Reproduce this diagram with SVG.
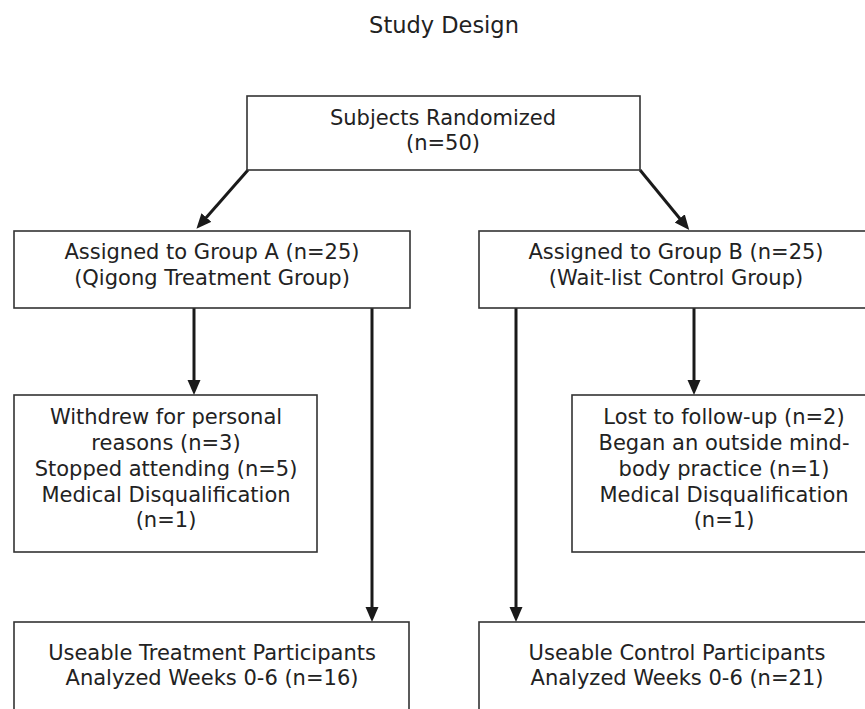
<svg xmlns="http://www.w3.org/2000/svg" width="865" height="709" viewBox="0 0 865 709">
<style>
.box{fill:#fff;stroke:#333;stroke-width:1.6}
.t{font-family:"DejaVu Sans",Verdana,sans-serif;font-size:21px;fill:#222;text-anchor:middle}
.c{stroke:#1a1a1a;stroke-width:3;fill:none;marker-end:url(#ah)}
</style>
<defs>
<marker id="ah" markerUnits="userSpaceOnUse" markerWidth="16" markerHeight="14" refX="2" refY="6.5" orient="auto">
<path d="M0,0 L15,6.5 L0,13 Z" fill="#1a1a1a"/>
</marker>
</defs>
<rect width="865" height="709" fill="#fff"/>
<text class="t" x="444" y="33" style="font-size:22.5px">Study Design</text>
<g id="connectors">
<line class="c" x1="248" y1="170" x2="205" y2="219"/>
<line class="c" x1="640" y1="170" x2="681" y2="220"/>
<line class="c" x1="194" y1="308" x2="194" y2="382"/>
<line class="c" x1="372" y1="308" x2="372" y2="609"/>
<line class="c" x1="516" y1="308" x2="516" y2="609"/>
<line class="c" x1="694" y1="308" x2="694" y2="382"/>
</g>
<g id="randomized">
<rect class="box" x="247" y="96" width="393" height="74"/>
<text class="t" x="443" y="125">Subjects Randomized</text>
<text class="t" x="443" y="150">(n=50)</text>
</g>
<g id="groupA">
<rect class="box" x="14" y="231" width="396" height="77"/>
<text class="t" x="212" y="259">Assigned to Group A (n=25)</text>
<text class="t" x="212" y="285">(Qigong Treatment Group)</text>
</g>
<g id="groupB">
<rect class="box" x="479" y="231" width="396" height="77"/>
<text class="t" x="676" y="259">Assigned to Group B (n=25)</text>
<text class="t" x="676" y="285">(Wait-list Control Group)</text>
</g>
<g id="dropoutA">
<rect class="box" x="14" y="395" width="303" height="157"/>
<text class="t" x="166" y="424">Withdrew for personal</text>
<text class="t" x="166" y="450">reasons (n=3)</text>
<text class="t" x="166" y="476">Stopped attending (n=5)</text>
<text class="t" x="166" y="502">Medical Disqualification</text>
<text class="t" x="166" y="527">(n=1)</text>
</g>
<g id="dropoutB">
<rect class="box" x="572" y="395" width="303" height="157"/>
<text class="t" x="724" y="424">Lost to follow-up (n=2)</text>
<text class="t" x="724" y="450">Began an outside mind-</text>
<text class="t" x="724" y="476">body practice (n=1)</text>
<text class="t" x="724" y="502">Medical Disqualification</text>
<text class="t" x="724" y="527">(n=1)</text>
</g>
<g id="analyzedA">
<rect class="box" x="14" y="622" width="395" height="100"/>
<text class="t" x="212" y="660">Useable Treatment Participants</text>
<text class="t" x="212" y="685">Analyzed Weeks 0-6 (n=16)</text>
</g>
<g id="analyzedB">
<rect class="box" x="479" y="622" width="396" height="100"/>
<text class="t" x="677" y="660">Useable Control Participants</text>
<text class="t" x="677" y="685">Analyzed Weeks 0-6 (n=21)</text>
</g>
</svg>
